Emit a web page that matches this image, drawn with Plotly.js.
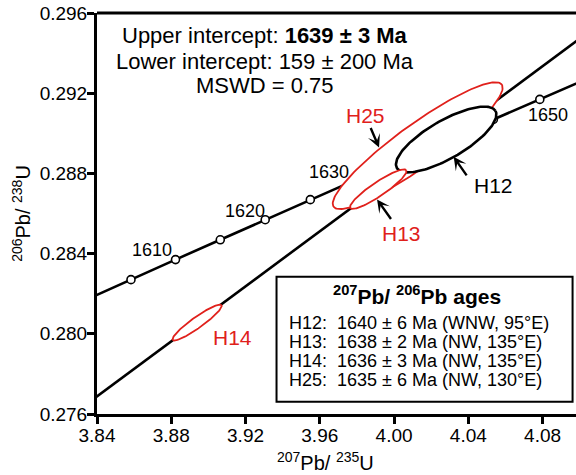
<!DOCTYPE html>
<html><head><meta charset="utf-8">
<script src="https://cdn.plot.ly/plotly-3.0.1.min.js"></script>
<style>body{margin:0;padding:0;background:#fff}#chart{width:576px;height:475px}</style>
</head><body><div id="chart"></div>
<script>
// Concordia points (age in Ma, 207Pb/235U, 206Pb/238U)
const concAges = [1595,1600,1605,1610,1615,1620,1625,1630,1635,1640,1645,1650,1655];
const concX = [3.8105,3.8342,3.8583,3.8823,3.9064,3.9306,3.9549,3.9794,4.0040,4.0287,4.0535,4.0785,4.1035];
const concY = [0.28071,0.28171,0.28270,0.28370,0.28469,0.28569,0.28669,0.28769,0.28869,0.28969,0.29069,0.29169,0.29270];
const ageLabels = [1610,1620,1630,1650];

// Discordia (regression line) end points
const discX = [3.80, 4.12];
const discY = [0.274131, 0.296092];

// Error ellipses: centre and conjugate semi-diameters (data units)
const ellNames = ['H25','H12','H13','H14'];
const ellCx = [4.01274, 4.02808, 3.99149, 3.89392];
const ellCy = [0.289383, 0.289692, 0.287215, 0.280561];
const ellUx = [0.045277, 0.026564, 0.015079, 0.013143];
const ellUy = [0.003047, 0.001421, 0.000942, 0.000868];
const ellVx = [-0.006643, -0.005112, -0.002107, -0.001719];
const ellVy = [0.000847, 0.000820, 0.000289, 0.000223];

// Ticks
const xTicks = [3.84,3.88,3.92,3.96,4.00,4.04,4.08];
const xTickText = ['3.84','3.88','3.92','3.96','4.00','4.04','4.08'];
const yTicks = [0.276,0.280,0.284,0.288,0.292,0.296];
const yTickText = ['0.276','0.280','0.284','0.288','0.292','0.296'];

// Texts
const interceptLines = ['Upper intercept: <b>1639 ± 3 Ma</b>','Lower intercept: 159 ± 200 Ma','MSWD = 0.75'];
const boxTitle = '<b><sup>207</sup>Pb/ <sup>206</sup>Pb ages</b>';
const boxLines = ['H12:\u00a0 1640 ± 6 Ma (WNW, 95°E)','H13:\u00a0 1638 ± 2 Ma (NW, 135°E)','H14:\u00a0 1636 ± 3 Ma (NW, 135°E)','H25:\u00a0 1635 ± 6 Ma (NW, 130°E)'];
const xTitle = '<sup>207</sup>Pb/ <sup>235</sup>U';
const yTitle = '<sup>206</sup>Pb/ <sup>238</sup>U';

const RED = '#e0201b';
const ellColors = [RED,'#000000',RED,RED];
const ellWidths = [1.8,2.6,1.8,1.8];
const FONT = 'Liberation Sans, Arial, sans-serif';

const traces = [];
traces.push({x:discX, y:discY, mode:'lines', line:{color:'#000',width:2.6}, hoverinfo:'skip'});
traces.push({x:concX, y:concY, mode:'lines+markers', line:{color:'#000',width:2.6},
  marker:{symbol:'circle',size:8,color:'#fff',line:{color:'#000',width:1.6}}, hoverinfo:'skip'});

for (let i=0;i<ellNames.length;i++){
  const xs=[],ys=[];
  const N=160;
  for(let k=0;k<=N;k++){
    const t=2*Math.PI*k/N;
    xs.push(ellCx[i]+ellUx[i]*Math.cos(t)+ellVx[i]*Math.sin(t));
    ys.push(ellCy[i]+ellUy[i]*Math.cos(t)+ellVy[i]*Math.sin(t));
  }
  traces.push({x:xs,y:ys,mode:'lines',fill:'toself',fillcolor:'#fff',
    line:{color:ellColors[i],width:ellWidths[i]},name:ellNames[i],hoverinfo:'skip'});
}

const ann = [];
// age labels on concordia
const ageOff = {1610:[-24,10],1620:[-20,9],1630:[-27,8],1650:[8,-16]};
ageLabels.forEach(a=>{
  const k=concAges.indexOf(a);
  ann.push({x:concX[k],y:concY[k],text:String(a),showarrow:false,xshift:ageOff[a][0],yshift:ageOff[a][1],
    font:{family:FONT,size:18,color:'#000'}});
});
// intercept text
const icY=[0.294891,0.29356,0.292399];
interceptLines.forEach((t,i)=>ann.push({x:3.93041,y:icY[i],text:t,showarrow:false,
  font:{family:FONT,size:22,color:'#000'}}));
// ellipse labels
ann.push({x:3.98476,y:0.290903,text:'H25',showarrow:false,font:{family:FONT,size:21,color:RED}});
ann.push({x:4.00413,y:0.285022,text:'H13',showarrow:false,font:{family:FONT,size:21,color:RED}});
ann.push({x:3.91292,y:0.279838,text:'H14',showarrow:false,font:{family:FONT,size:21,color:RED}});
ann.push({x:4.05364,y:0.287414,text:'H12',showarrow:false,font:{family:FONT,size:21,color:'#000'}});
// arrows
const arr=(x,y,ax,ay)=>({x:x,y:y,ax:ax,ay:ay,text:'',showarrow:true,arrowhead:3,arrowsize:0.9,arrowwidth:2.4,arrowcolor:'#000',standoff:0});
ann.push(arr(3.99192,0.289293,-9,-21));
ann.push(arr(4.03212,0.288825,14,20));
ann.push(arr(3.99084,0.286701,15,21));
// legend box text
ann.push({x:4.01247,y:0.281931,text:boxTitle,showarrow:false,font:{family:FONT,size:21,color:'#000'}});
const blY=[0.280536,0.279589,0.278642,0.277695];
boxLines.forEach((t,i)=>ann.push({x:3.94208,y:blY[i],xanchor:'left',yanchor:'middle',text:t,showarrow:false,
  font:{family:FONT,size:18,color:'#000'}}));
// x-axis title
ann.push({xref:'paper',yref:'paper',x:0.476,y:-0.118,xanchor:'center',yanchor:'middle',text:xTitle,showarrow:false,
  font:{family:FONT,size:20,color:'#000'}});

const NB='\u00a0';
const layout = {
  width:576,height:475,
  margin:{l:97,r:0,t:13,b:61},
  paper_bgcolor:'#fff',plot_bgcolor:'#fff',
  showlegend:false,
  font:{family:FONT,color:'#000'},
  xaxis:{range:[3.84,4.098],tickvals:xTicks,ticktext:xTickText,showgrid:false,zeroline:false,
    showline:true,linecolor:'#000',linewidth:3,ticks:'outside',ticklen:7,tickwidth:3,tickcolor:'#000',
    ticklabelstandoff:-5,
    tickfont:{family:FONT,size:19,color:'#000'}},
  yaxis:{range:[0.276,0.296],tickvals:yTicks,ticktext:yTickText,showgrid:false,zeroline:false,
    showline:true,linecolor:'#000',linewidth:3,ticks:'outside',ticklen:7,tickwidth:3,tickcolor:'#000',
    ticklabelstandoff:-4,
    tickfont:{family:FONT,size:19,color:'#000'},
    title:{text:yTitle+NB.repeat(7),font:{family:FONT,size:20,color:'#000'},standoff:4}},
  shapes:[
    {type:'line',xref:'paper',yref:'paper',x0:0,x1:1,y0:1,y1:1,line:{color:'#000',width:3}},
    {type:'rect',xref:'x',yref:'y',x0:3.93670,x1:4.09615,y0:0.276613,y1:0.282844,line:{color:'#000',width:2},fillcolor:'rgba(0,0,0,0)',layer:'above'}
  ],
  annotations:ann
};
Plotly.newPlot('chart',traces,layout,{displayModeBar:false,staticPlot:true});
</script></body></html>
